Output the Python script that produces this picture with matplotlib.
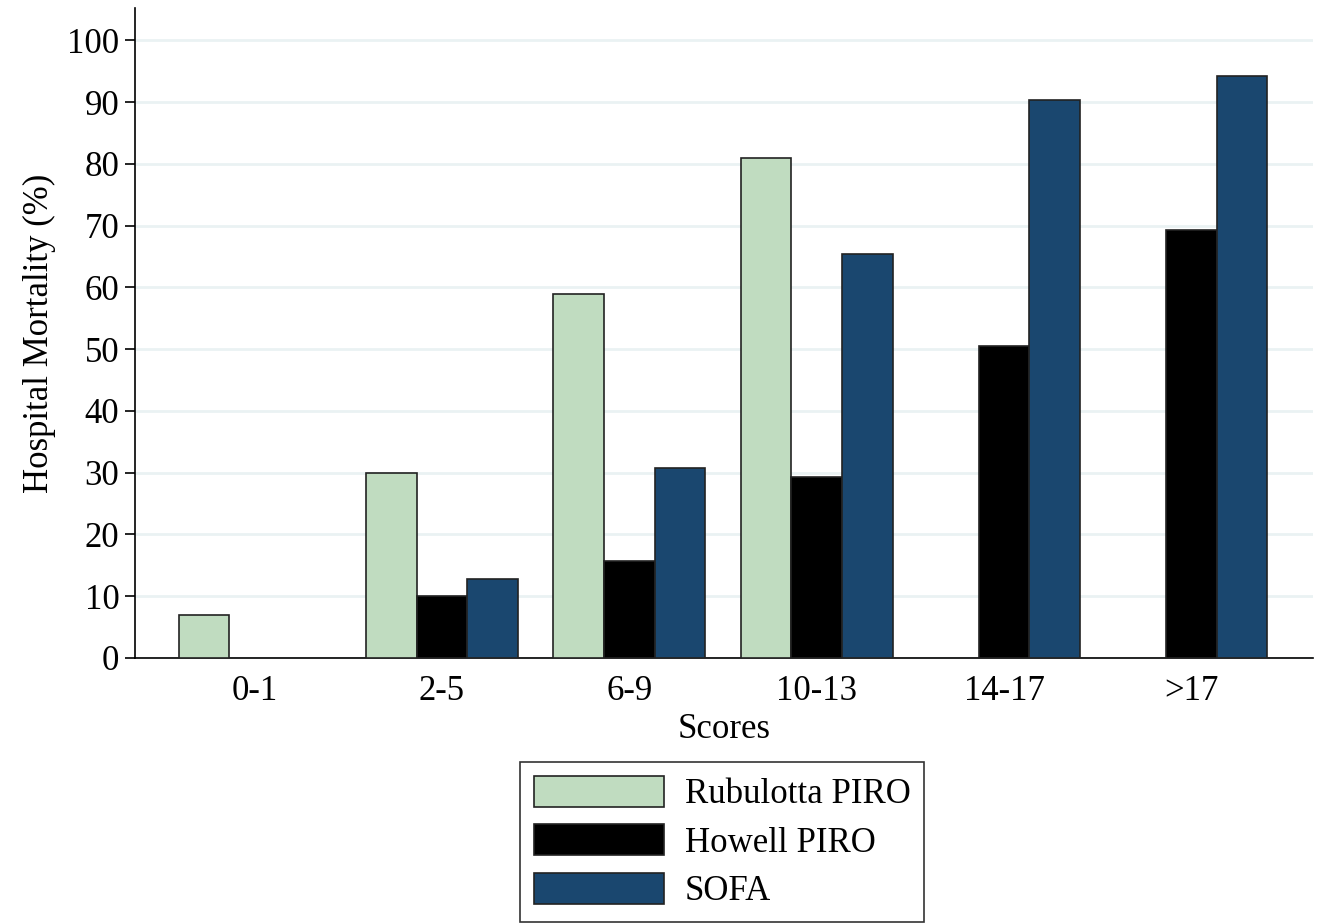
import numpy as np
import matplotlib
matplotlib.use("Agg")
import matplotlib.pyplot as plt

matplotlib.rcParams['font.family'] = "Liberation Serif"
matplotlib.rcParams.update({'font.size': 25})

scores = ["0-1", "2-5", "6-9", "10-13", "14-17", ">17"]
rubulotta = [7, 30, 59, 81, 0, 0]
howell = [0, 10, 15.7, 29.3, 50.5, 69.3]
sofa = [0, 12.8, 30.7, 65.4, 90.3, 94.2]

series = ["Rubulotta PIRO", "Howell PIRO", "SOFA"]
colors = ["#c0dcc0", "#000000", "#1a476f"]

fig = plt.figure(figsize=(13.21, 9.24), dpi=100)
ax = fig.add_axes([0.102, 0.288, 0.892, 0.703])

x = np.arange(len(scores))
w = 0.27
handles = []
for i, (vals, col, name) in enumerate(zip([rubulotta, howell, sofa], colors, series)):
    vals = np.array(vals, dtype=float)
    # skip empty bars so no outline is drawn at zero
    mask = vals > 0
    b = ax.bar(x[mask] + (i - 1) * w, vals[mask], width=w, color=col,
               edgecolor="#222222", linewidth=1.2, zorder=3, label=name)
    handles.append(b)

ax.set_xlim(-0.64, 5.65)
ax.set_ylim(0, 105.2)
ax.set_yticks(range(0, 101, 10))
ax.set_xticks(x)
ax.set_xticklabels(scores)
ax.tick_params(axis="x", length=0, pad=12)
ax.tick_params(axis="y", length=7, width=1.2, pad=4)
ax.yaxis.grid(True, color="#eaf2f3", linewidth=2, zorder=0)
ax.set_axisbelow(True)
for s in ["top", "right"]:
    ax.spines[s].set_visible(False)
ax.spines["left"].set_linewidth(1.2)
ax.spines["bottom"].set_linewidth(1.2)

ax.set_ylabel("Hospital Mortality (%)", labelpad=8)
ax.set_xlabel("Scores", labelpad=4)

leg = fig.legend(handles=handles, labels=series, loc="lower center",
                 bbox_to_anchor=(0.5466, 0.002), ncol=1, frameon=True,
                 fancybox=False, edgecolor="black", handlelength=3.75,
                 handleheight=1.0, handletextpad=0.6, labelspacing=0.38,
                 borderpad=0.4, borderaxespad=0, fontsize=25)
leg.get_frame().set_linewidth(1.2)

fig.savefig("out.png", dpi=100)
